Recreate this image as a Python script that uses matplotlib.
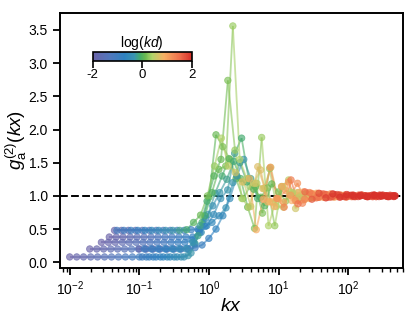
import numpy as np
import matplotlib
matplotlib.use('Agg')
import matplotlib.pyplot as plt
from matplotlib.collections import LineCollection
from matplotlib.colors import LinearSegmentedColormap, Normalize
from matplotlib.cm import ScalarMappable

plt.rcParams['font.family'] = ['Liberation Sans', 'DejaVu Sans']
plt.rcParams['mathtext.fontset'] = 'custom'
plt.rcParams['mathtext.rm'] = 'Liberation Sans'
plt.rcParams['mathtext.it'] = 'Liberation Sans:italic'
plt.rcParams['axes.unicode_minus'] = False

# grille kd commune (valeurs lues, pas de 0.1 décade)
kd_grid = [0.0100, 0.0126, 0.0158, 0.0200, 0.0251, 0.0316, 0.0398, 0.0501,
           0.0631, 0.0794, 0.100, 0.126, 0.158, 0.200, 0.251, 0.316,
           0.398, 0.501, 0.631, 0.794, 1.00, 1.26, 1.58, 2.00,
           2.51, 3.16, 3.98, 5.01, 6.31, 7.94, 10.0, 12.6,
           15.8, 20.0, 25.1, 31.6, 39.8, 50.1, 63.1, 79.4,
           100.0, 126.0, 158.0, 200.0, 251.0, 316.0, 398.0, 501.0]

# rapport x/d de chaque courbe et indice de départ dans la grille
ratios = [1.00, 1.94, 2.85, 3.70, 4.40, 6.30, 1.10, 1.18, 0.60]
starts = [0, 0, 0, 0, 0, 2, 10, 10, 9]

g2_a = [0.08, 0.08, 0.08, 0.08, 0.08, 0.08, 0.08, 0.08, 0.08, 0.08, 0.08, 0.08, 0.08, 0.08, 0.08, 0.08,
        0.08, 0.10, 0.28, 0.60, 0.98, 1.92, 1.74, 1.55, 1.30, 1.21, 0.84, 1.44, 1.12, 0.91,
        0.96, 1.08, 1.02, 0.97, 1.04, 0.98, 1.03, 0.98, 1.02, 0.99, 1.01, 0.99, 1.01, 1.00,
        0.99, 1.01, 1.00]
g2_b = [0.20, 0.20, 0.20, 0.20, 0.20, 0.20, 0.20, 0.20, 0.20, 0.20, 0.20, 0.20, 0.20, 0.20,
        0.21, 0.28, 0.45, 0.72, 1.04, 1.30, 1.56, 1.26, 0.96, 1.14, 1.19, 1.11, 1.43, 0.96,
        1.14, 0.93, 1.05, 0.97, 1.03, 0.98, 1.02, 0.99, 1.01, 0.99, 1.00, 1.01, 0.99, 1.00,
        1.01, 0.99]
g2_c = [0.30, 0.30, 0.30, 0.30, 0.30, 0.30, 0.30, 0.30, 0.30, 0.30, 0.30, 0.30,
        0.30, 0.33, 0.48, 0.66, 0.85, 1.05, 1.25, 1.52, 1.26, 0.83, 0.51, 1.88, 0.55,
        0.91, 1.14, 1.01, 0.95, 1.06, 0.97, 1.03, 0.98, 1.02, 0.99, 1.01, 0.99, 1.01,
        1.00, 0.99, 1.01, 1.00, 0.99]
g2_d = [0.38, 0.38, 0.38, 0.38, 0.38, 0.38, 0.38, 0.38, 0.38, 0.38, 0.38, 0.38,
        0.38, 0.45, 0.55, 0.72, 0.96, 1.09, 1.64, 1.87, 1.26, 1.14, 0.74, 1.41, 0.84,
        0.83, 1.06, 1.05, 0.94, 1.04, 0.98, 1.02, 0.99, 1.01, 0.98, 1.01, 1.00, 0.99,
        1.01, 1.00, 0.99, 1.00]
g2_e = [0.48, 0.48, 0.48, 0.48, 0.48, 0.48, 0.48, 0.48, 0.48, 0.48, 0.48,
        0.49, 0.50, 0.54, 0.60, 0.70, 0.82, 1.20, 1.50, 1.21, 1.10, 0.98, 1.12, 0.55,
        1.14, 1.24, 0.81, 1.02, 0.96, 1.04, 0.98, 1.03, 0.99, 1.01, 0.99, 1.01, 1.00,
        0.99, 1.01, 1.00, 1.00]
g2_f = [0.20, 0.20, 0.20, 0.20, 0.20, 0.20, 0.20, 0.20,
        0.22, 0.26, 0.36, 0.50, 0.70, 0.96, 1.30, 1.55, 1.26, 0.96, 0.85, 1.18, 1.06,
        0.92, 1.05, 0.98, 1.03, 0.97, 1.02, 1.00, 0.98, 1.01, 1.00, 0.99, 1.01, 1.00,
        0.99, 1.00, 1.01]
g2_g = [0.08, 0.08, 0.08, 0.08, 0.08, 0.08,
        0.08, 0.14, 0.40, 0.70, 1.05, 1.40, 1.45, 3.56, 1.55, 1.26, 1.19, 1.39, 0.91,
        0.84, 1.14, 1.21, 0.93, 0.89, 1.05, 0.97, 1.03, 0.98, 1.02, 0.99, 1.01, 0.99,
        1.00, 1.01, 0.99, 1.00, 1.00]
g2_h = [0.20, 0.20, 0.20, 0.20, 0.20, 0.20,
        0.20, 0.30, 0.55, 0.92, 1.30, 1.55, 2.74, 1.69, 0.96, 0.83, 1.19, 1.11, 0.91,
        0.96, 0.90, 1.01, 1.19, 0.95, 1.03, 0.98, 1.02, 0.99, 1.01, 0.99, 1.01, 1.00,
        0.99, 1.01, 1.00, 0.99, 1.00]
g2_i = [0.48, 0.48, 0.48, 0.48, 0.48, 0.48, 0.48, 0.48, 0.48, 0.48,
        0.49, 0.60, 0.71, 1.00, 1.45, 1.87, 1.45, 1.35, 1.21, 1.26, 0.49, 0.95, 1.43,
        0.96, 0.83, 1.24, 0.88, 1.06, 0.95, 1.04, 0.97, 1.03, 0.98, 1.02, 0.99, 1.01,
        0.99, 1.01, 1.00]
g2_curves = [g2_a, g2_b, g2_c, g2_d, g2_e, g2_f, g2_g, g2_h, g2_i]

cmap = LinearSegmentedColormap.from_list('kd', [
    (0.00, '#6b63a8'), (0.18, '#4f78bd'), (0.32, '#2f82c0'), (0.42, '#3a95b0'),
    (0.48, '#45ad68'), (0.53, '#6ab950'), (0.60, '#b1d46a'), (0.72, '#f8b064'),
    (0.88, '#ef6f4c'), (1.00, '#d7302a')])
norm = Normalize(vmin=-2, vmax=2, clip=True)

fig = plt.figure(figsize=(4.16, 3.19), dpi=100)
ax = fig.add_axes([0.144, 0.160, 0.825, 0.799])

ax.axhline(1.0, color='black', ls='--', lw=1.4, dashes=(4, 1.7), zorder=1)

for r, s, g2 in zip(ratios, starts, g2_curves):
    kd = np.array(kd_grid[s:s + len(g2)])
    kx = kd * r
    g2 = np.array(g2)
    logkd = np.log10(kd)
    pts = np.column_stack([kx, g2])
    segs = np.stack([pts[:-1], pts[1:]], axis=1)
    seg_c = cmap(norm(0.5 * (logkd[:-1] + logkd[1:])))
    lc = LineCollection(segs, colors=seg_c, linewidths=1.3, alpha=0.6, zorder=2)
    ax.add_collection(lc)
    ax.scatter(kx, g2, c=logkd, cmap=cmap, norm=norm, s=22, alpha=0.65,
               linewidths=0.6, edgecolors=cmap(norm(logkd)), zorder=3)

ax.set_xscale('log')
ax.set_xlim(0.00723, 612)
ax.set_ylim(-0.086, 3.754)
ax.set_yticks([0.0, 0.5, 1.0, 1.5, 2.0, 2.5, 3.0, 3.5])
ax.set_xticks([0.01, 0.1, 1, 10, 100])
ax.tick_params(which='major', length=5, width=1.3, labelsize=10, direction='out')
ax.tick_params(which='minor', length=3, width=1.0, direction='out')
for sp in ax.spines.values():
    sp.set_linewidth(1.4)

ax.set_xlabel(r'$kx$', fontsize=14, labelpad=0)
ax.set_ylabel(r'$g_{\mathrm{a}}^{(2)}(kx)$', fontsize=13.5, labelpad=0)

# barre de couleur en médaillon
cax = fig.add_axes([0.223, 0.810, 0.238, 0.028])
cb = fig.colorbar(ScalarMappable(norm=norm, cmap=cmap), cax=cax,
                  orientation='horizontal', ticks=[-2, 0, 2])
cb.ax.set_xticklabels(['-2', '0', '2'])
cb.ax.tick_params(length=5, width=1.2, labelsize=9.5, pad=1)
cb.outline.set_linewidth(1.2)
cax.set_title(r'$\mathrm{log}(kd)$', fontsize=10, pad=2)

fig.savefig('out.png', dpi=100)
